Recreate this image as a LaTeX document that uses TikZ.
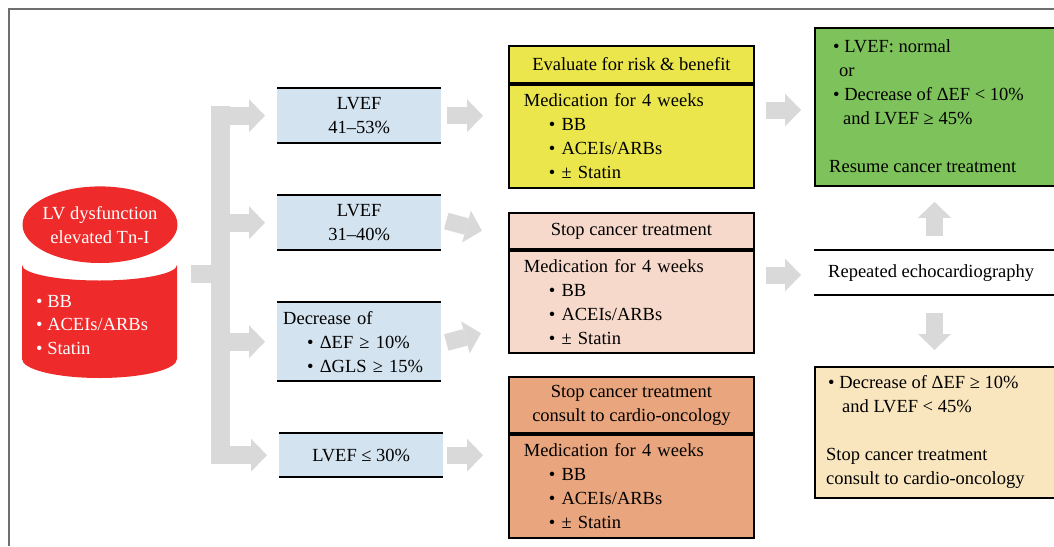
\documentclass[tikz,border=0pt]{standalone}
\usepackage{fontspec}
\setmainfont{Liberation Serif}
\usetikzlibrary{arrows.meta}
\definecolor{cblue}{HTML}{D3E3EF}
\definecolor{cyellow}{HTML}{EAE64B}
\definecolor{cpink}{HTML}{F6D9CB}
\definecolor{corange}{HTML}{E9A57D}
\definecolor{cgreen}{HTML}{7EC25B}
\definecolor{ccream}{HTML}{F9E6BE}
\definecolor{cred}{HTML}{EE2A2A}
\definecolor{cgray}{HTML}{D9D9D9}
\definecolor{cframe}{HTML}{6E6E6E}
\begin{document}
\begin{tikzpicture}[x=1pt,y=-1pt,
  every node/.style={inner sep=0pt, font=\fontsize{18.5}{24}\selectfont},
  bluebox/.style={fill=cblue, anchor=north west, minimum width=164pt, align=center},
  bline/.style={line width=2pt},
  hbox/.style={draw=black, line width=1.8pt, anchor=north west, minimum width=245pt, align=center},
  bbox/.style={hbox, text width=215pt, align=left},
  rbox/.style={draw=black, line width=1.8pt, anchor=north west, minimum width=260pt},
  bigarrow/.style={draw=cgray, line width=17pt, -{Triangle[length=16pt,width=33pt,line width=0pt]}},
  note/.style={anchor=west, align=left},
]
\useasboundingbox (0,0) rectangle (1054,546);
\begin{scope}
\clip (0,0) rectangle (1054,546);
% frame
\draw[cframe, line width=1.3pt] (9,546) -- (9,9) -- (1054,9);

% cylinder
\fill[cred] (100,224.7) ellipse [x radius=77.5, y radius=38.3];
\fill[cred] (177,265) arc[start angle=0,end angle=180,x radius=77.5,y radius=15.5]
  -- (22,359) arc[start angle=180,end angle=0,x radius=77.5,y radius=19] -- cycle;
\node[text=white, align=center] (cyltop) at (100,225.5) {LV dysfunction\\elevated Tn-I};
\node[text=white, anchor=west, align=left, font=\fontsize{18.5}{23.5}\selectfont] (cylbody) at (36,325) {• BB\\• ACEIs/ARBs\\• Statin};

% trunk
\fill[cgray] (191,265) rectangle (212,283);
\fill[cgray] (211,105.5) rectangle (230,464);
\coordinate (trunk) at (211,0);

% blue boxes
\node[bluebox, minimum height=55pt] (b1) at (277,88) {LVEF\\41--53\%};
\node[bluebox, minimum height=55pt] (b2) at (277,195) {LVEF\\31--40\%};
\node[bluebox, minimum height=79pt, text width=152pt, align=left] (b3) at (277,302)
  {Decrease of\\\hspace*{24pt}• ΔEF ≥ 10\%\\\hspace*{24pt}• ΔGLS ≥ 15\%};
\node[bluebox, minimum height=44pt] (b4) at (279,433) {LVEF ≤ 30\%};
\foreach \b in {b1,b2,b3,b4}{
  \draw[bline] (\b.north west) -- (\b.north east) (\b.south west) -- (\b.south east);
  \draw[bigarrow, line width=18pt, shorten >=12pt] (\b.west -| trunk) -- (\b.west);
}

% middle boxes
\node[hbox, fill=cyellow, minimum height=37pt] (y1h) at (508,45) {Evaluate for risk \& benefit};
\node[bbox, fill=cyellow, minimum height=103pt] (y1b) at (y1h.south west)
  {Medication for 4 weeks\\\hspace*{25pt}• BB\\\hspace*{25pt}• ACEIs/ARBs\\\hspace*{25pt}• ± Statin};
\node[hbox, fill=cpink, minimum height=36pt] (p1h) at (508,212) {Stop cancer treatment};
\node[bbox, fill=cpink, minimum height=102pt] (p1b) at (p1h.south west)
  {Medication for 4 weeks\\\hspace*{25pt}• BB\\\hspace*{25pt}• ACEIs/ARBs\\\hspace*{25pt}• ± Statin};
\node[hbox, fill=corange, minimum height=56pt] (o1h) at (508,376) {Stop cancer treatment\\consult to cardio-oncology};
\node[bbox, fill=corange, minimum height=103pt] (o1b) at (o1h.south west)
  {Medication for 4 weeks\\\hspace*{25pt}• BB\\\hspace*{25pt}• ACEIs/ARBs\\\hspace*{25pt}• ± Statin};

% right column
\node[rbox, fill=cgreen, minimum height=158pt] (g) at (814,27) {};
\node[note] (gt) at (829,106) {\hspace*{4pt}• LVEF: normal\\\hspace*{10pt}or\\\hspace*{4pt}• Decrease of ΔEF < 10\%\\\hspace*{14pt}and LVEF ≥ 45\%\\[24pt]Resume cancer treatment};
\node[anchor=north west, minimum width=260pt, minimum height=45pt] (r) at (814,250) {};
\draw[bline] (r.north west) -- (r.north east) (r.south west) -- (r.south east);
\node[anchor=west] (rt) at (828,273) {Repeated echocardiography};
\node[rbox, fill=ccream, minimum height=131pt] (c) at (814,366) {};
\node[note] (ct) at (826,431.5) {\hspace*{2pt}• Decrease of ΔEF ≥ 10\%\\\hspace*{16pt}and LVEF < 45\%\\[24pt]Stop cancer treatment\\consult to cardio-oncology};

% arrows
\draw[bigarrow, shorten <=6pt, shorten >=25pt] (b1.east) -- (b1.east -| y1b.west);
\draw[bigarrow, shorten <=5pt, shorten >=27pt] ([yshift=3pt]b2.east) -- ([yshift=12pt]p1b.north west);
\draw[bigarrow, shorten <=5pt, shorten >=28pt] ([yshift=-2pt]b3.east) -- ([yshift=27.5pt]p1b.south west);
\draw[bigarrow, shorten <=4pt, shorten >=25pt] (b4.east) -- (b4.east -| o1b.west);
\coordinate (a5) at (0,110);
\coordinate (a6) at (0,275);
\draw[bigarrow, shorten <=11pt, shorten >=13pt] (a5 -| y1b.east) -- (a5 -| g.west);
\draw[bigarrow, shorten <=11pt, shorten >=13pt] (a6 -| p1b.east) -- (a6 -| r.west);
\coordinate (ux) at (934.5,0);
\draw[bigarrow, shorten <=14pt, shorten >=15pt] (ux |- r.north) -- (ux |- g.south);
\draw[bigarrow, shorten <=18pt, shorten >=16pt] (ux |- r.south) -- (ux |- c.north);
\end{scope}
\end{tikzpicture}
\end{document}
